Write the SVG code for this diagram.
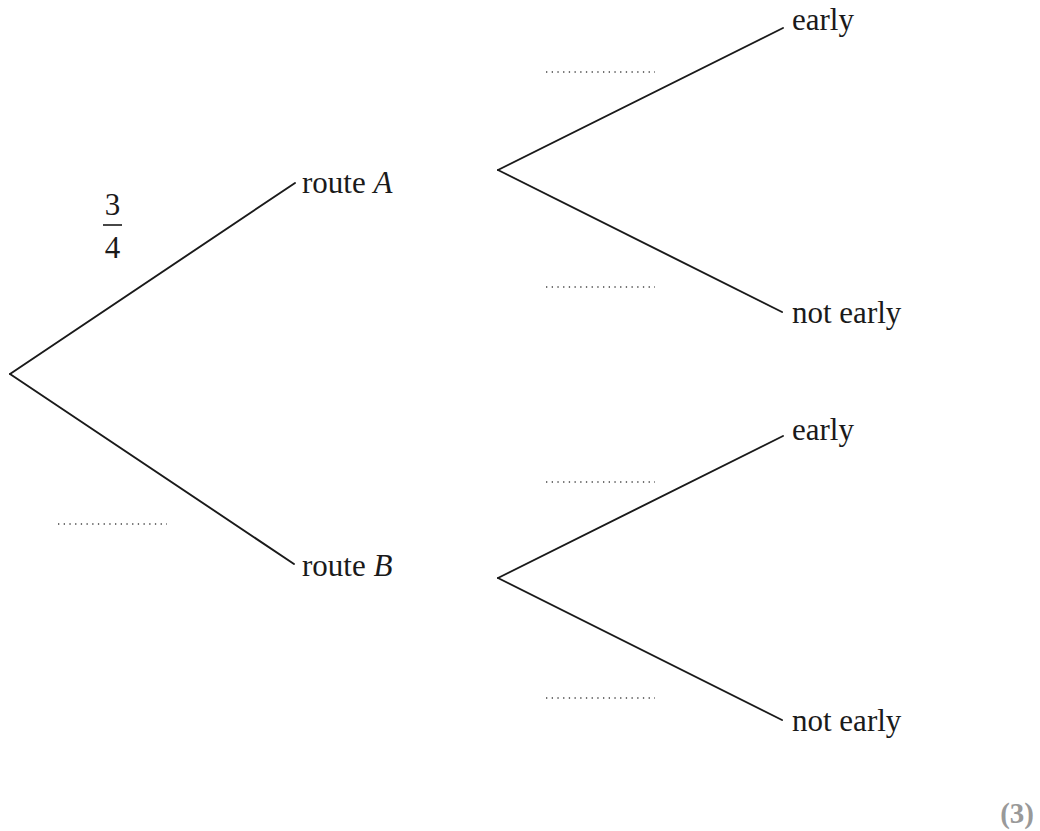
<svg xmlns="http://www.w3.org/2000/svg" width="1040" height="831" viewBox="0 0 1040 831">
<style>
.br{stroke:#1a1a1a;stroke-width:1.9;fill:none;stroke-linecap:round}
.dots{stroke:#444;stroke-width:1.5;stroke-dasharray:1.3 4.4;fill:none}
.t{font-family:"Liberation Serif","Times New Roman",serif;font-size:31px;fill:#1a1a1a}
.mark{font-family:"Liberation Serif","Times New Roman",serif;font-size:29px;font-weight:bold;fill:#999}
</style>
<rect width="1040" height="831" fill="#fff"/>
<g id="connectors">
<line class="br" x1="10" y1="374" x2="295" y2="183"/>
<line class="br" x1="10" y1="374" x2="294" y2="564"/>
<line class="br" x1="498" y1="170" x2="783" y2="28"/>
<line class="br" x1="498" y1="170" x2="782" y2="312"/>
<line class="br" x1="498" y1="578" x2="783" y2="436"/>
<line class="br" x1="498" y1="578" x2="782" y2="720"/>
</g>
<g id="routeA"><text class="t" x="302" y="193">route <tspan font-style="italic">A</tspan></text></g>
<g id="routeB"><text class="t" x="302" y="576">route <tspan font-style="italic">B</tspan></text></g>
<g id="A-early"><text class="t" x="792" y="30">early</text></g>
<g id="A-notearly"><text class="t" x="792" y="323">not early</text></g>
<g id="B-early"><text class="t" x="792" y="440">early</text></g>
<g id="B-notearly"><text class="t" x="792" y="731">not early</text></g>
<g id="prob-A">
<text class="t" x="112.5" y="215" text-anchor="middle">3</text>
<line x1="103" y1="225" x2="122" y2="225" stroke="#1a1a1a" stroke-width="1.6"/>
<text class="t" x="112.5" y="258" text-anchor="middle">4</text>
</g>
<g id="blanks">
<line class="dots" x1="546" y1="72" x2="655" y2="72"/>
<line class="dots" x1="546" y1="287" x2="655" y2="287"/>
<line class="dots" x1="546" y1="482" x2="655" y2="482"/>
<line class="dots" x1="546" y1="698" x2="655" y2="698"/>
<line class="dots" x1="58" y1="524" x2="167" y2="524"/>
</g>
<g id="marks"><text class="mark" x="1034" y="823" text-anchor="end">(3)</text></g>
</svg>
